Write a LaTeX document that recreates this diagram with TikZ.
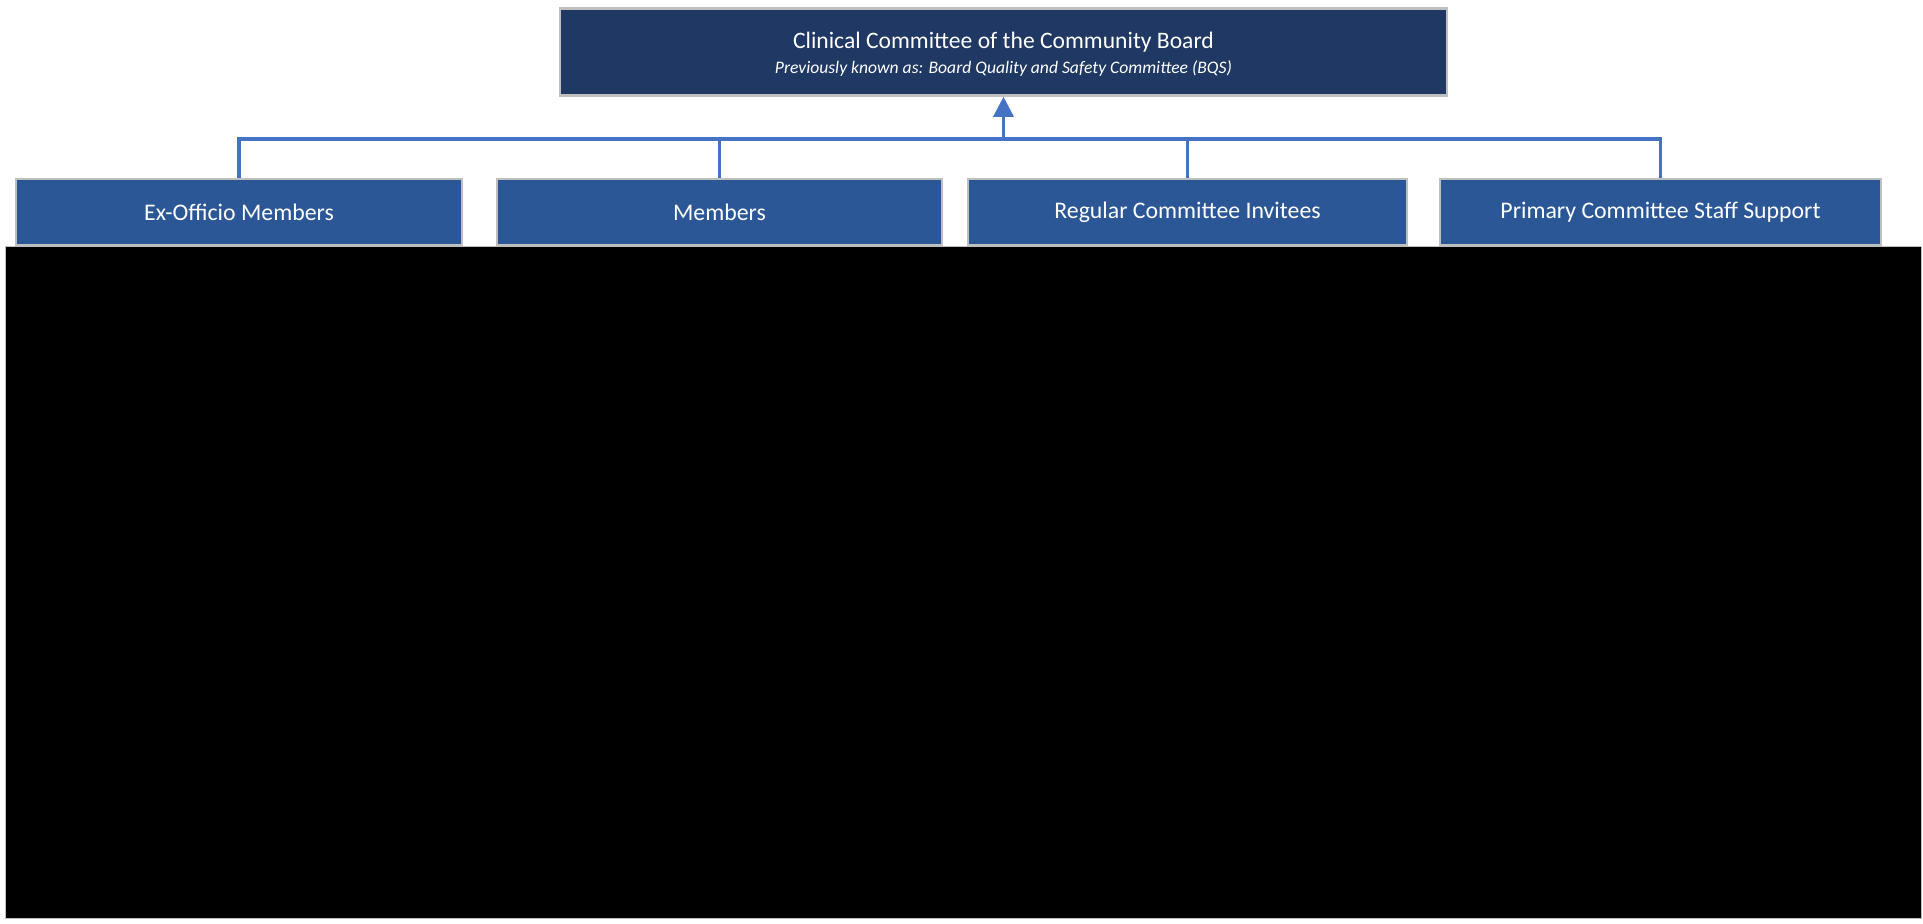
\documentclass[tikz,border=0pt]{standalone}
\usepackage{fontspec}
\setmainfont{Carlito}
\usetikzlibrary{arrows.meta,fit}
\definecolor{navy}{HTML}{203864}
\definecolor{boxblue}{HTML}{2B5797}
\definecolor{linkblue}{HTML}{4472C4}
\definecolor{edgegray}{HTML}{BFBFBF}
\begin{document}
\begin{tikzpicture}[x=0.5pt,y=-0.5pt,
  topbox/.style={draw=edgegray,line width=1.3pt,fill=navy,text=white,minimum width=443.5pt,minimum height=43.5pt,inner sep=0pt,align=center},
  childbox/.style={draw=edgegray,line width=1.3pt,fill=boxblue,text=white,minimum height=33pt,inner sep=0pt,font=\fontsize{11.9}{13}\selectfont},
  link/.style={draw=linkblue,line width=1.6pt},
  mask/.style={fill=black,draw=edgegray,line width=0.5pt,inner sep=0pt}]
\useasboundingbox (0,0) rectangle (1923,924);
\fill[white] (0,0) rectangle (1923,924);
\node[topbox] (top) at (1003.5,52) {};
\node[white,align=center,inner sep=0pt] (toptext) at (1003.5,54) {{\fontsize{11.8}{13}\selectfont Clinical Committee of the Community Board}\\[0.5pt]{\fontsize{8.8}{10}\selectfont\itshape Previously known as: Board Quality and Safety Committee (BQS)}};
\node[childbox,minimum width=223pt] (b1) at (239,212) {Ex-Officio Members};
\node[childbox,minimum width=222.5pt] (b2) at (719.5,212) {Members};
\node[childbox,minimum width=219.5pt] (b3) at (1187.5,212) {Regular Committee Invitees};
\node[childbox,minimum width=220.5pt] (b4) at (1660.5,212) {Primary Committee Staff Support};
\coordinate (bus) at (1003.5,139);
\draw[link] (b1.north) |- (bus);
\draw[link] (b2.north) |- (bus);
\draw[link] (b3.north) |- (bus);
\draw[link] (b4.north) |- (bus);
\draw[link,-{Triangle[length=10pt,width=10pt]}] (bus) -- (top.south);
\coordinate (c1) at (34,320);
\coordinate (c2) at (720,320);
\coordinate (c3) at (995,320);
\coordinate (c4) at (1470,320);
\draw[link,line width=1pt,-{Triangle[length=5pt,width=5pt]}] (c1) -- (c1 |- b1.south);
\draw[link,line width=1pt,-{Triangle[length=5pt,width=5pt]}] (c2) -- (c2 |- b2.south);
\draw[link,line width=1pt,-{Triangle[length=5pt,width=5pt]}] (c3) -- (c3 |- b3.south);
\draw[link,line width=1pt,-{Triangle[length=5pt,width=5pt]}] (c4) -- (c4 |- b4.south);
\path (5,247) coordinate (mtl) (1921,918) coordinate (mbr);
\node[mask,fit={(mtl)(mbr)}] (cover) {};
\end{tikzpicture}
\end{document}
